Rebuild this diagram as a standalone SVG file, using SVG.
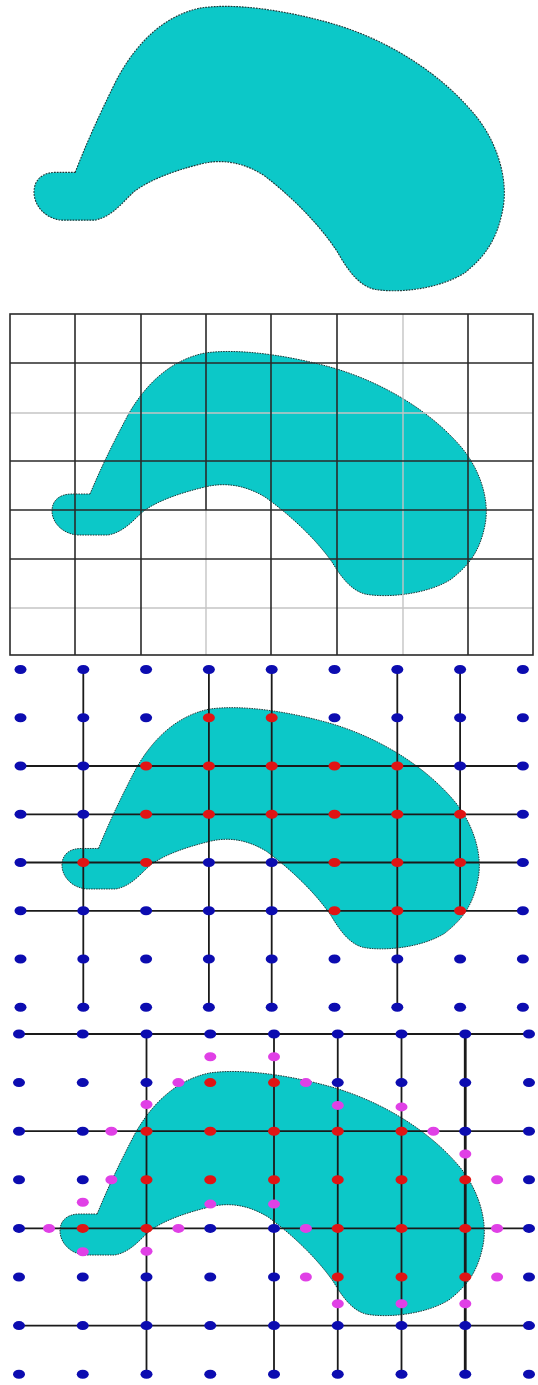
<svg xmlns="http://www.w3.org/2000/svg" xmlns:xlink="http://www.w3.org/1999/xlink" width="538" height="1385" viewBox="0 0 538 1385">
<style>
.blob{fill:#0cc8c8;stroke:#1d3838;stroke-width:1;stroke-dasharray:1.6 1}
.gd{stroke:#2a2a2a;stroke-width:1.6;fill:none}
.gl{stroke:#c4c4c4;stroke-width:1.4;fill:none}
.ln{stroke:#1a1a1a;stroke-width:1.8;fill:none}
.b{fill:#0c0cb0}
.r{fill:#e01414}
.m{fill:#e040e6}
</style>
<defs>
<path id="shape" d="M 90 494 C 100 470, 112 445, 128 415 C 145 385, 170 360, 205 353 C 240 348, 290 356, 330 367 C 380 381, 430 410, 462 448 C 480 470, 490 500, 485 525 C 480 550, 470 565, 450 580 C 425 595, 385 598, 365 594 C 350 590, 340 575, 332 562 C 315 538, 290 515, 265 497 C 245 485, 225 482, 205 487 C 180 493, 160 500, 145 510 C 135 518, 125 532, 108 535 L 78 535 C 62 534, 52 522, 52 511 C 52 500, 60 494, 72 494 Z"/>
<ellipse id="db" class="b" rx="6" ry="4.5"/>
<ellipse id="dr" class="r" rx="6" ry="4.5"/>
<ellipse id="dm" class="m" rx="6" ry="4.5"/>
</defs>
<rect width="538" height="1385" fill="#ffffff"/>

<g id="panel1">
<use xlink:href="#shape" class="blob" transform="matrix(1.083,0,0,1.165,-22.3,-403.1)"/>
</g>

<g id="panel2">
<use xlink:href="#shape" class="blob"/>
<g id="panel2-grid">
<line class="gl" x1="403" y1="314" x2="403" y2="655"/>
<line class="gl" x1="206" y1="510" x2="206" y2="655"/>
<line class="gl" x1="10" y1="413" x2="533" y2="413"/>
<line class="gl" x1="10" y1="608" x2="533" y2="608"/>
<line class="gd" x1="206" y1="314" x2="206" y2="510"/>
<line class="gd" x1="75" y1="314" x2="75" y2="655"/>
<line class="gd" x1="141" y1="314" x2="141" y2="655"/>
<line class="gd" x1="271" y1="314" x2="271" y2="655"/>
<line class="gd" x1="337" y1="314" x2="337" y2="655"/>
<line class="gd" x1="468" y1="314" x2="468" y2="655"/>
<line class="gd" x1="10" y1="363" x2="533" y2="363"/>
<line class="gd" x1="10" y1="461" x2="533" y2="461"/>
<line class="gd" x1="10" y1="510" x2="533" y2="510"/>
<line class="gd" x1="10" y1="559" x2="533" y2="559"/>
<rect class="gd" x="10" y="314" width="523" height="341"/>
</g>
</g>

<g id="panel3">
<use xlink:href="#shape" class="blob" transform="matrix(0.961,0,0,0.988,12,360.4)"/>
<g id="panel3-lines">
<line class="ln" x1="83.3" y1="669.5" x2="83.3" y2="1007.3"/>
<line class="ln" x1="208.9" y1="669.5" x2="208.9" y2="1007.3"/>
<line class="ln" x1="271.7" y1="669.5" x2="271.7" y2="1007.3"/>
<line class="ln" x1="397.3" y1="669.5" x2="397.3" y2="1007.3"/>
<line class="ln" x1="460.1" y1="669.5" x2="460.1" y2="910.8"/>
<line class="ln" x1="20.5" y1="766" x2="522.9" y2="766"/>
<line class="ln" x1="20.5" y1="814.3" x2="522.9" y2="814.3"/>
<line class="ln" x1="20.5" y1="862.5" x2="522.9" y2="862.5"/>
<line class="ln" x1="20.5" y1="910.8" x2="522.9" y2="910.8"/>
</g>
<g id="panel3-dots">
<use xlink:href="#db" x="20.5" y="669.5"/><use xlink:href="#db" x="83.3" y="669.5"/><use xlink:href="#db" x="146.1" y="669.5"/><use xlink:href="#db" x="208.9" y="669.5"/><use xlink:href="#db" x="271.7" y="669.5"/><use xlink:href="#db" x="334.5" y="669.5"/><use xlink:href="#db" x="397.3" y="669.5"/><use xlink:href="#db" x="460.1" y="669.5"/><use xlink:href="#db" x="522.9" y="669.5"/>
<use xlink:href="#db" x="20.5" y="717.8"/><use xlink:href="#db" x="83.3" y="717.8"/><use xlink:href="#db" x="146.1" y="717.8"/><use xlink:href="#dr" x="208.9" y="717.8"/><use xlink:href="#dr" x="271.7" y="717.8"/><use xlink:href="#db" x="334.5" y="717.8"/><use xlink:href="#db" x="397.3" y="717.8"/><use xlink:href="#db" x="460.1" y="717.8"/><use xlink:href="#db" x="522.9" y="717.8"/>
<use xlink:href="#db" x="20.5" y="766"/><use xlink:href="#db" x="83.3" y="766"/><use xlink:href="#dr" x="146.1" y="766"/><use xlink:href="#dr" x="208.9" y="766"/><use xlink:href="#dr" x="271.7" y="766"/><use xlink:href="#dr" x="334.5" y="766"/><use xlink:href="#dr" x="397.3" y="766"/><use xlink:href="#db" x="460.1" y="766"/><use xlink:href="#db" x="522.9" y="766"/>
<use xlink:href="#db" x="20.5" y="814.3"/><use xlink:href="#db" x="83.3" y="814.3"/><use xlink:href="#dr" x="146.1" y="814.3"/><use xlink:href="#dr" x="208.9" y="814.3"/><use xlink:href="#dr" x="271.7" y="814.3"/><use xlink:href="#dr" x="334.5" y="814.3"/><use xlink:href="#dr" x="397.3" y="814.3"/><use xlink:href="#dr" x="460.1" y="814.3"/><use xlink:href="#db" x="522.9" y="814.3"/>
<use xlink:href="#db" x="20.5" y="862.5"/><use xlink:href="#dr" x="83.3" y="862.5"/><use xlink:href="#dr" x="146.1" y="862.5"/><use xlink:href="#db" x="208.9" y="862.5"/><use xlink:href="#db" x="271.7" y="862.5"/><use xlink:href="#dr" x="334.5" y="862.5"/><use xlink:href="#dr" x="397.3" y="862.5"/><use xlink:href="#dr" x="460.1" y="862.5"/><use xlink:href="#db" x="522.9" y="862.5"/>
<use xlink:href="#db" x="20.5" y="910.8"/><use xlink:href="#db" x="83.3" y="910.8"/><use xlink:href="#db" x="146.1" y="910.8"/><use xlink:href="#db" x="208.9" y="910.8"/><use xlink:href="#db" x="271.7" y="910.8"/><use xlink:href="#dr" x="334.5" y="910.8"/><use xlink:href="#dr" x="397.3" y="910.8"/><use xlink:href="#dr" x="460.1" y="910.8"/><use xlink:href="#db" x="522.9" y="910.8"/>
<use xlink:href="#db" x="20.5" y="959"/><use xlink:href="#db" x="83.3" y="959"/><use xlink:href="#db" x="146.1" y="959"/><use xlink:href="#db" x="208.9" y="959"/><use xlink:href="#db" x="271.7" y="959"/><use xlink:href="#db" x="334.5" y="959"/><use xlink:href="#db" x="397.3" y="959"/><use xlink:href="#db" x="460.1" y="959"/><use xlink:href="#db" x="522.9" y="959"/>
<use xlink:href="#db" x="20.5" y="1007.3"/><use xlink:href="#db" x="83.3" y="1007.3"/><use xlink:href="#db" x="146.1" y="1007.3"/><use xlink:href="#db" x="208.9" y="1007.3"/><use xlink:href="#db" x="271.7" y="1007.3"/><use xlink:href="#db" x="334.5" y="1007.3"/><use xlink:href="#db" x="397.3" y="1007.3"/><use xlink:href="#db" x="460.1" y="1007.3"/><use xlink:href="#db" x="522.9" y="1007.3"/>
</g>
</g>

<g id="panel4">
<use xlink:href="#shape" class="blob" transform="matrix(0.977,0,0,1,9.2,720)"/>
<g id="panel4-lines">
<line class="ln" x1="146.5" y1="1034" x2="146.5" y2="1374.2"/>
<line class="ln" x1="274" y1="1034" x2="274" y2="1374.2"/>
<line class="ln" x1="337.75" y1="1034" x2="337.75" y2="1374.2"/>
<line class="ln" x1="401.5" y1="1034" x2="401.5" y2="1374.2"/>
<line class="ln" x1="465.25" y1="1034" x2="465.25" y2="1374.2" style="stroke-width:2.8"/>
<line class="ln" x1="19" y1="1034" x2="529" y2="1034"/>
<line class="ln" x1="19" y1="1131.2" x2="529" y2="1131.2"/>
<line class="ln" x1="19" y1="1228.4" x2="529" y2="1228.4"/>
<line class="ln" x1="19" y1="1325.6" x2="529" y2="1325.6"/>
</g>
<g id="panel4-dots">
<use xlink:href="#db" x="19" y="1034"/><use xlink:href="#db" x="82.75" y="1034"/><use xlink:href="#db" x="146.5" y="1034"/><use xlink:href="#db" x="210.25" y="1034"/><use xlink:href="#db" x="274" y="1034"/><use xlink:href="#db" x="337.75" y="1034"/><use xlink:href="#db" x="401.5" y="1034"/><use xlink:href="#db" x="465.25" y="1034"/><use xlink:href="#db" x="529" y="1034"/>
<use xlink:href="#db" x="19" y="1082.6"/><use xlink:href="#db" x="82.75" y="1082.6"/><use xlink:href="#db" x="146.5" y="1082.6"/><use xlink:href="#dr" x="210.25" y="1082.6"/><use xlink:href="#dr" x="274" y="1082.6"/><use xlink:href="#db" x="337.75" y="1082.6"/><use xlink:href="#db" x="401.5" y="1082.6"/><use xlink:href="#db" x="465.25" y="1082.6"/><use xlink:href="#db" x="529" y="1082.6"/>
<use xlink:href="#db" x="19" y="1131.2"/><use xlink:href="#db" x="82.75" y="1131.2"/><use xlink:href="#dr" x="146.5" y="1131.2"/><use xlink:href="#dr" x="210.25" y="1131.2"/><use xlink:href="#dr" x="274" y="1131.2"/><use xlink:href="#dr" x="337.75" y="1131.2"/><use xlink:href="#dr" x="401.5" y="1131.2"/><use xlink:href="#db" x="465.25" y="1131.2"/><use xlink:href="#db" x="529" y="1131.2"/>
<use xlink:href="#db" x="19" y="1179.8"/><use xlink:href="#db" x="82.75" y="1179.8"/><use xlink:href="#dr" x="146.5" y="1179.8"/><use xlink:href="#dr" x="210.25" y="1179.8"/><use xlink:href="#dr" x="274" y="1179.8"/><use xlink:href="#dr" x="337.75" y="1179.8"/><use xlink:href="#dr" x="401.5" y="1179.8"/><use xlink:href="#dr" x="465.25" y="1179.8"/><use xlink:href="#db" x="529" y="1179.8"/>
<use xlink:href="#db" x="19" y="1228.4"/><use xlink:href="#dr" x="82.75" y="1228.4"/><use xlink:href="#dr" x="146.5" y="1228.4"/><use xlink:href="#db" x="210.25" y="1228.4"/><use xlink:href="#db" x="274" y="1228.4"/><use xlink:href="#dr" x="337.75" y="1228.4"/><use xlink:href="#dr" x="401.5" y="1228.4"/><use xlink:href="#dr" x="465.25" y="1228.4"/><use xlink:href="#db" x="529" y="1228.4"/>
<use xlink:href="#db" x="19" y="1277"/><use xlink:href="#db" x="82.75" y="1277"/><use xlink:href="#db" x="146.5" y="1277"/><use xlink:href="#db" x="210.25" y="1277"/><use xlink:href="#db" x="274" y="1277"/><use xlink:href="#dr" x="337.75" y="1277"/><use xlink:href="#dr" x="401.5" y="1277"/><use xlink:href="#dr" x="465.25" y="1277"/><use xlink:href="#db" x="529" y="1277"/>
<use xlink:href="#db" x="19" y="1325.6"/><use xlink:href="#db" x="82.75" y="1325.6"/><use xlink:href="#db" x="146.5" y="1325.6"/><use xlink:href="#db" x="210.25" y="1325.6"/><use xlink:href="#db" x="274" y="1325.6"/><use xlink:href="#db" x="337.75" y="1325.6"/><use xlink:href="#db" x="401.5" y="1325.6"/><use xlink:href="#db" x="465.25" y="1325.6"/><use xlink:href="#db" x="529" y="1325.6"/>
<use xlink:href="#db" x="19" y="1374.2"/><use xlink:href="#db" x="82.75" y="1374.2"/><use xlink:href="#db" x="146.5" y="1374.2"/><use xlink:href="#db" x="210.25" y="1374.2"/><use xlink:href="#db" x="274" y="1374.2"/><use xlink:href="#db" x="337.75" y="1374.2"/><use xlink:href="#db" x="401.5" y="1374.2"/><use xlink:href="#db" x="465.25" y="1374.2"/><use xlink:href="#db" x="529" y="1374.2"/>
</g>
<g id="panel4-boundary-dots">
<use xlink:href="#dm" x="210.3" y="1056.8"/><use xlink:href="#dm" x="274" y="1056.8"/>
<use xlink:href="#dm" x="178.4" y="1082.6"/><use xlink:href="#dm" x="305.9" y="1082.6"/>
<use xlink:href="#dm" x="146.5" y="1104.5"/><use xlink:href="#dm" x="337.8" y="1105.4"/><use xlink:href="#dm" x="401.5" y="1106.9"/>
<use xlink:href="#dm" x="111.4" y="1131.2"/><use xlink:href="#dm" x="433.4" y="1131.2"/>
<use xlink:href="#dm" x="465.3" y="1154"/>
<use xlink:href="#dm" x="111.4" y="1179.8"/><use xlink:href="#dm" x="497.1" y="1179.8"/>
<use xlink:href="#dm" x="82.8" y="1202.2"/><use xlink:href="#dm" x="210.3" y="1204.1"/><use xlink:href="#dm" x="274" y="1204.1"/>
<use xlink:href="#dm" x="49" y="1228.4"/><use xlink:href="#dm" x="178.4" y="1228.4"/><use xlink:href="#dm" x="305.9" y="1228.4"/><use xlink:href="#dm" x="497.1" y="1228.4"/>
<use xlink:href="#dm" x="82.8" y="1251.7"/><use xlink:href="#dm" x="146.5" y="1251.2"/>
<use xlink:href="#dm" x="305.9" y="1277"/><use xlink:href="#dm" x="497.1" y="1277"/>
<use xlink:href="#dm" x="337.8" y="1303.7"/><use xlink:href="#dm" x="401.5" y="1303.7"/><use xlink:href="#dm" x="465.3" y="1303.7"/>
</g>
</g>
</svg>
